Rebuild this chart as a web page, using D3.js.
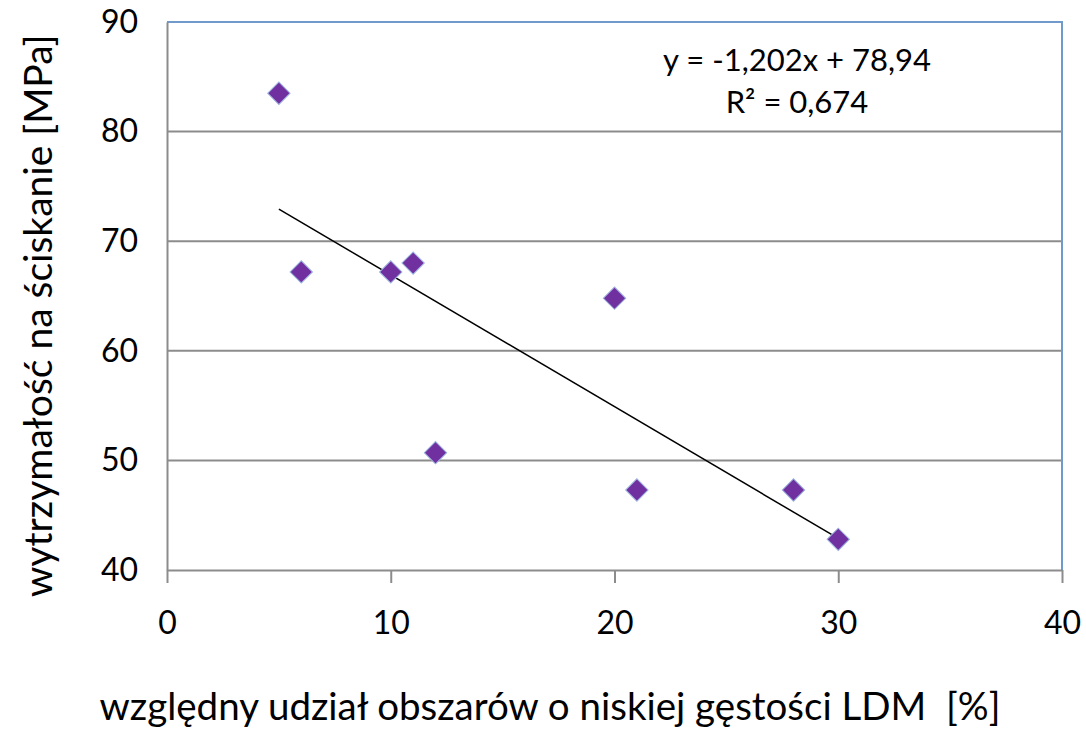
<!DOCTYPE html>
<html>
<head>
<meta charset="utf-8">
<script src="https://cdn.jsdelivr.net/npm/d3@7"></script>
<style>
  body { margin: 0; background: #fff; }
  text { font-family: Lato, "Open Sans", sans-serif; fill: #000; }
</style>
</head>
<body>
<svg id="chart" width="1086" height="732"></svg>
<script>
const xVals = [5, 6, 10, 11, 12, 20, 21, 28, 30]
const yVals = [83.5, 67.2, 67.2, 68.0, 50.7, 64.8, 47.3, 47.3, 42.8]
const xTicks = [0, 10, 20, 30, 40]
const yTicks = [40, 50, 60, 70, 80, 90]
const slope = -1.202
const intercept = 78.94
const eqLines = ['y = -1,202x + 78,94', 'R² = 0,674']

const svg = d3.select('#chart')
const m = { left: 167, right: 1062, top: 22, bottom: 570 }

const x = d3.scaleLinear().domain([0, 40]).range([m.left, m.right])
const y = d3.scaleLinear().domain([40, 90]).range([m.bottom, m.top])

// linie siatki
svg.append('g')
    .selectAll('line')
    .data(yTicks.filter(d => d > 40 && d < 90))
    .enter().append('line')
    .attr('x1', m.left).attr('x2', m.right)
    .attr('y1', d => y(d)).attr('y2', d => y(d))
    .attr('stroke', '#8c8c8c').attr('stroke-width', 2)

// ramka: góra i prawa strona niebieska
svg.append('path')
    .attr('d', `M${m.left},${m.top}H${m.right}V${m.bottom}`)
    .attr('fill', 'none').attr('stroke', '#7099cc').attr('stroke-width', 2)

// oś X
const xAxis = svg.append('g')
    .attr('transform', `translate(0,${m.bottom})`)
    .call(d3.axisBottom(x).tickValues(xTicks).tickSize(13).tickPadding(28).tickSizeOuter(0))
xAxis.select('.domain').attr('stroke', '#8c8c8c').attr('stroke-width', 2)
xAxis.selectAll('.tick line').attr('stroke', '#8c8c8c').attr('stroke-width', 2)
xAxis.selectAll('text').style('font-size', '32px').attr('fill', '#000')

// oś Y
const yAxis = svg.append('g')
    .attr('transform', `translate(${m.left},0)`)
    .call(d3.axisLeft(y).tickValues(yTicks).tickSize(0).tickPadding(29).tickSizeOuter(0))
yAxis.select('.domain').attr('stroke', '#8c8c8c').attr('stroke-width', 2)
yAxis.selectAll('text').style('font-size', '32px').attr('fill', '#000')

// linia trendu
const trendX = [d3.min(xVals), d3.max(xVals)]
svg.append('line')
    .attr('x1', x(trendX[0])).attr('y1', y(slope * trendX[0] + intercept))
    .attr('x2', x(trendX[1])).attr('y2', y(slope * trendX[1] + intercept))
    .attr('stroke', '#000').attr('stroke-width', 1.5)

// punkty
const diamond = d3.symbol().type(d3.symbolSquare).size(250)
svg.append('g')
    .selectAll('path')
    .data(xVals.map((d, i) => [d, yVals[i]]))
    .enter().append('path')
    .attr('d', diamond)
    .attr('transform', d => `translate(${x(d[0])},${y(d[1])}) rotate(45)`)
    .attr('fill', '#7030a0')
    .attr('stroke', '#9db3e0').attr('stroke-width', 1)

// równanie
svg.append('g')
    .selectAll('text')
    .data(eqLines)
    .enter().append('text')
    .attr('x', 797)
    .attr('y', (d, i) => 71 + i * 42)
    .attr('text-anchor', 'middle')
    .style('font-size', '31px')
    .text(d => d)

// tytuły osi
svg.append('text')
    .attr('x', 550).attr('y', 720)
    .attr('text-anchor', 'middle')
    .attr('xml:space', 'preserve')
    .style('font-size', '38.5px')
    .text('względny udział obszarów o niskiej gęstości LDM  [%]')

svg.append('text')
    .attr('transform', 'translate(52,316) rotate(-90)')
    .attr('text-anchor', 'middle')
    .style('font-size', '39px')
    .text('wytrzymałość na ściskanie [MPa]')
</script>
</body>
</html>
